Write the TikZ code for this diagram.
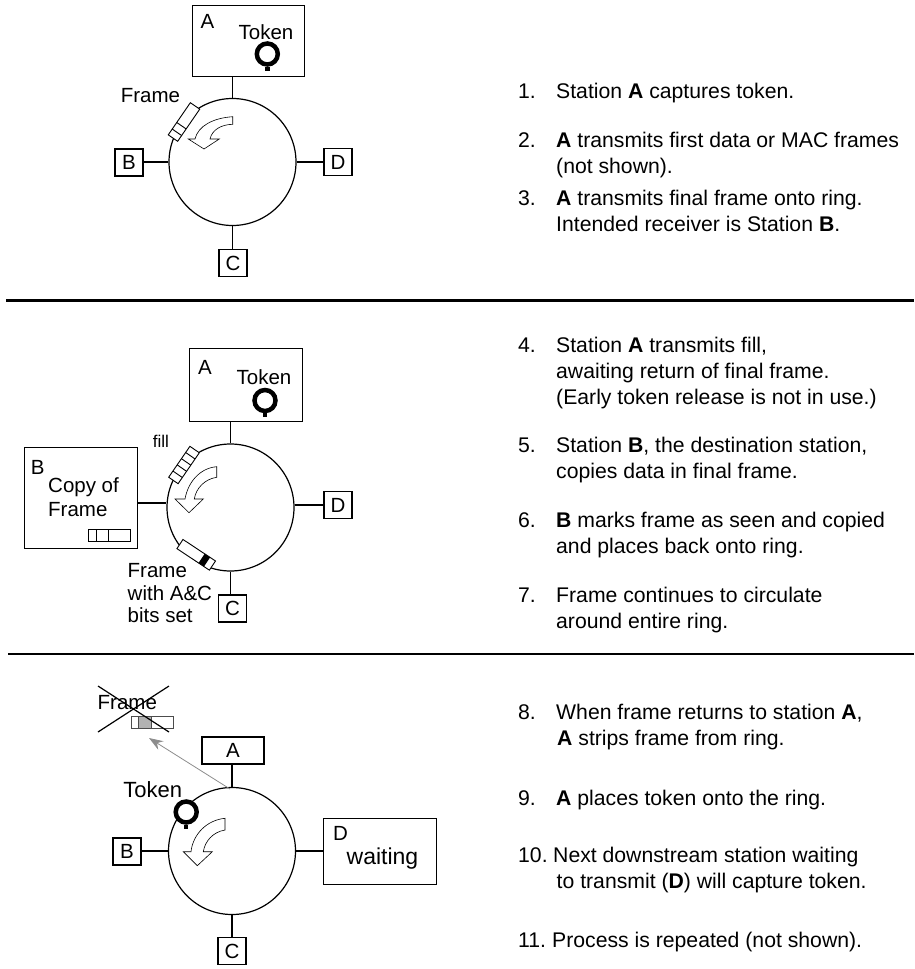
\documentclass[tikz,border=0pt]{standalone}
\usepackage{fontspec}
\setmainfont{Liberation Sans}
\usetikzlibrary{arrows.meta}
\tikzset{
  ringnode/.style={draw,circle,line width=1.2pt,minimum size=127pt,inner sep=0pt,fill=white},
  station/.style={draw,line width=1.2pt,minimum width=#1,minimum height=27pt,inner sep=0pt,font=\fontsize{20.5}{22}\selectfont},
  station/.default=28pt,
  bigstation/.style={draw,line width=1.2pt,inner sep=0pt,anchor=north west},
  lbl/.style={inner sep=0pt,font=\fontsize{20.5}{22}\selectfont},
  note/.style={inner sep=0pt,anchor=base west,align=left,font=\fontsize{21.2}{26}\selectfont},
  tokenring/.style={draw,circle,line width=4.5pt,minimum size=21pt,inner sep=0pt,fill=white},
  flow/.style={draw,line width=0.6pt,fill=white},
  seg/.style={draw,line width=0.9pt,fill=white},
  link/.style={line width=1.2pt}
}
\begin{document}
\begin{tikzpicture}[x=1pt,y=-1pt,>=stealth]
  \useasboundingbox (0,0) rectangle (914,969);

  % first panel
  \node[ringnode] (ring1) at (232.5,162) {};
  \node[bigstation,minimum width=112pt,minimum height=71pt] (a1) at (192,5) {};
  \node[station] (b1) at (129,162.5) {B};
  \node[station] (c1) at (233,263) {C};
  \node[station] (d1) at (338,162) {D};
  \draw[link] (ring1.north) -- (ring1.north |- a1.south);
  \draw[link] (ring1.west) -- (ring1.west -| b1.east);
  \draw[link] (ring1.south) -- (ring1.south |- c1.north);
  \draw[link] (ring1.east) -- (ring1.east -| d1.west);
  \node[lbl] (a1txt) at (207.5,21.5) {A};
  \node[lbl] (tok1txt) at (266,32) {Token};
  \node[tokenring] (tok1) at (267.3,54) {};
  \draw[line width=4.5pt] (tok1.south) -- (tok1.south |- 0,71);
  \node[lbl] (frm1txt) at (150.5,96) {Frame};
  \begin{scope}[shift={(184,122)},rotate=55.5]
    \draw[seg] (-19.5,-5.7) rectangle (19.5,5.7);
    \draw[line width=0.9pt] (-12.5,-5.7) -- (-12.5,5.7) (-4.5,-5.7) -- (-4.5,5.7);
  \end{scope}
  \draw[flow] (232.7,116.7) .. controls (213,118) and (198,126) .. (195,139) -- (188.3,139)
    -- (204,149) -- (219.3,139) -- (210,139) .. controls (212,130) and (221,124.5) .. (232.7,124.3) -- cycle;

  \draw[line width=2.7pt] (6,300.5) -- (914,300.5);

  % second panel
  \node[ringnode] (ring2) at (230.5,507.5) {};
  \node[bigstation,minimum width=113pt,minimum height=73pt] (a2) at (189,348) {};
  \node[bigstation,minimum width=113pt,minimum height=101pt] (b2) at (24,447) {};
  \node[station] (c2) at (232.5,608.5) {C};
  \node[station] (d2) at (338,505) {D};
  \draw[link] (ring2.north) -- (ring2.north |- a2.south);
  \draw[link] (ring2.west |- 0,503) -- (b2.east |- 0,503);
  \draw[link] (ring2.south) -- (ring2.south |- c2.north);
  \draw[link] (ring2.east |- d2.west) -- (d2.west);
  \node[lbl] (a2txt) at (205,367) {A};
  \node[lbl] (tok2txt) at (264,377) {Token};
  \node[tokenring] (tok2) at (265,400.5) {};
  \draw[line width=4.5pt] (tok2.south) -- (tok2.south |- 0,417);
  \node[lbl,font=\fontsize{17}{19}\selectfont] (fill2txt) at (161,441.5) {fill};
  \begin{scope}[shift={(184,465)},rotate=55.5]
    \draw[seg] (-18.75,-5.7) rectangle (18.75,5.7);
    \foreach \s in {-11.25,-3.75,3.75,11.25}
      \draw[line width=0.9pt] (\s,-5.7) -- (\s,5.7);
  \end{scope}
  \draw[flow] (216.7,466.7) .. controls (200,468) and (188,482) .. (185,499) -- (175,499)
    -- (189,512.7) -- (203.3,499) -- (194.3,499) .. controls (196,488) and (205,479) .. (216.7,477.3) -- cycle;
  \node[lbl] (b2txt) at (37.7,467) {B};
  \node[lbl,anchor=base west] (copytxt) at (48,492.5) {Copy of};
  \node[lbl,anchor=base west] (frm2txt) at (48,516) {Frame};
  \draw[seg] (88.7,529.3) rectangle (130,541);
  \draw[line width=0.9pt] (96,529.3) -- (96,541) (108.3,529.3) -- (108.3,541);
  \begin{scope}[shift={(196.2,554.8)},rotate=-33.5]
    \draw[seg] (-19.5,-5.5) rectangle (19.5,5.5);
    \fill (6.5,-5.5) rectangle (13,5.5);
  \end{scope}
  \node[lbl,anchor=base west] (frm3txt) at (127.5,577.5) {Frame};
  \node[lbl,anchor=base west] (withtxt) at (127.5,600) {with A\&C};
  \node[lbl,anchor=base west] (bitstxt) at (127.5,622) {bits set};

  \draw[line width=2.7pt] (8,654) -- (914,654);

  % third panel
  \node[ringnode] (ring3) at (232,851) {};
  \node[station=62pt] (a3) at (233,750.5) {A};
  \node[station] (b3) at (127,851.5) {B};
  \node[station] (c3) at (232,951) {C};
  \node[bigstation,minimum width=113pt,minimum height=66pt] (d3) at (323,818) {};
  \draw[link] (ring3.north) -- (ring3.north |- a3.south);
  \draw[link] (ring3.west) -- (ring3.west -| b3.east);
  \draw[link] (ring3.south) -- (c3.north);
  \draw[link] (ring3.east) -- (ring3.east -| d3.west);
  \node[lbl] (d3txt) at (340.5,833.5) {D};
  \node[lbl,font=\fontsize{23}{25}\selectfont] (waittxt) at (382.5,859) {waiting};
  \node[lbl,font=\fontsize{22}{24}\selectfont] (tok3txt) at (152.7,790) {Token};
  \node[tokenring] (tok3) at (186.2,812) {};
  \draw[line width=4.5pt] (tok3.south) -- (tok3.south |- 0,828.5);
  \draw[flow] (225,818.3) .. controls (207,820) and (193,834) .. (191,851.7) -- (183.3,851.7)
    -- (197.3,865.7) -- (212.3,851.7) -- (203.3,851.7) .. controls (205,841) and (213,832) .. (225,830) -- cycle;
  \node[lbl] (frm4txt) at (127.3,702.5) {Frame};
  \draw[line width=0.8pt,black!70,fill=white] (131,716) rectangle (173,728);
  \fill[black!30] (138,716) rectangle (151,728);
  \draw[line width=0.8pt,black!70] (138,716) rectangle (151,728);
  \draw[line width=1.2pt] (98,686) -- (169,732) (98,732) -- (169,686);
  \coordinate (stripend) at (149,738);
  \draw[-{Stealth[length=14pt,width=10pt]},black!45,line width=0.8pt] (230,789) -- (stripend);

  % steps on the right
  \node[note] (n1) at (518,98.3) {1.};
  \node[note] (t1) at (556,98.3) {Station \textbf{A} captures token.};
  \node[note] (n2) at (518,147.3) {2.};
  \node[note] (t2) at (556,173.3) {\textbf{A} transmits first data or MAC frames\\(not shown).};
  \node[note] (n3) at (518,205) {3.};
  \node[note] (t3) at (556,231) {\textbf{A} transmits final frame onto ring.\\Intended receiver is Station \textbf{B}.};
  \node[note] (n4) at (518,352.7) {4.};
  \node[note] (t4) at (556,404.7) {Station \textbf{A} transmits fill,\\awaiting return of final frame.\\(Early token release is not in use.)};
  \node[note] (n5) at (518,452.7) {5.};
  \node[note] (t5) at (556,478.7) {Station \textbf{B}, the destination station,\\copies data in final frame.};
  \node[note] (n6) at (518,527.3) {6.};
  \node[note] (t6) at (556,553.3) {\textbf{B} marks frame as seen and copied\\and places back onto ring.};
  \node[note] (n7) at (518,602.7) {7.};
  \node[note] (t7) at (556,628.7) {Frame continues to circulate\\around entire ring.};
  \node[note] (n8) at (518,719.3) {8.};
  \node[note] (t8) at (556,745.3) {When frame returns to station \textbf{A},\\\hspace{1pt}\textbf{A} strips frame from ring.};
  \node[note] (n9) at (518,805) {9.};
  \node[note] (t9) at (556,805) {\textbf{A} places token onto the ring.};
  \node[note] (n10) at (518,862.7) {10.};
  \node[note] (t10) at (553,862.7) {Next downstream station waiting};
  \node[note] (t10b) at (556.5,888.7) {to transmit (\textbf{D}) will capture token.};
  \node[note] (n11) at (518,947.3) {11.};
  \node[note] (t11) at (552,947.3) {Process is repeated (not shown).};
\end{tikzpicture}
\end{document}
